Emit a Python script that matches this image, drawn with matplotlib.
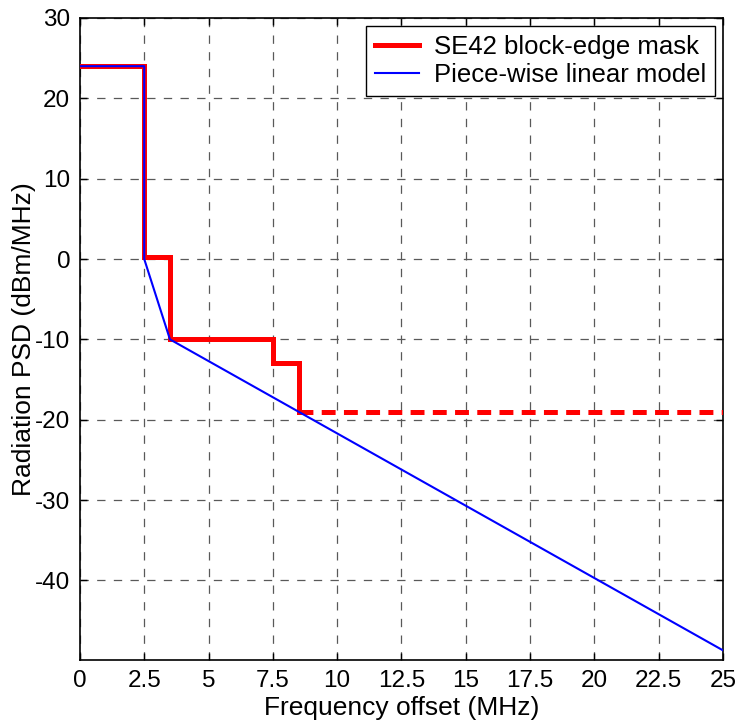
import matplotlib
matplotlib.use("Agg")
import matplotlib.pyplot as plt

plt.rcParams['font.family'] = ['Liberation Sans', 'DejaVu Sans']
plt.rcParams['lines.scale_dashes'] = False
plt.rcParams['axes.unicode_minus'] = False

# SE42 block-edge mask (step function) and its piece-wise linear model
mask_freq = [0, 2.5, 2.5, 3.5, 3.5, 7.5, 7.5, 8.5, 8.5]
mask_psd = [24, 24, 0.3, 0.3, -10, -10, -13, -13, -19]
mask_ext_freq = [8.5, 25]
mask_ext_psd = [-19, -19]

model_freq = [0, 2.5, 2.5, 3.5, 25]
model_psd = [24, 24, 0, -10, -48.7]

xticks = [0, 2.5, 5, 7.5, 10, 12.5, 15, 17.5, 20, 22.5, 25]
xtick_labels = ['0', '2.5', '5', '7.5', '10', '12.5', '15', '17.5', '20', '22.5', '25']
yticks = [-40, -30, -20, -10, 0, 10, 20, 30]

fig = plt.figure(figsize=(7.4, 7.24), dpi=100)
ax = fig.add_axes([0.108, 0.0884, 0.869, 0.8868])

ax.plot(mask_freq, mask_psd, color='#ff0000', lw=3.6, solid_joinstyle='miter',
        label='SE42 block-edge mask', zorder=3)
ax.plot(mask_ext_freq, mask_ext_psd, color='#ff0000', lw=3.6,
        dashes=(10, 6), zorder=3)
ax.plot(model_freq, model_psd, color='#0000ff', lw=1.5,
        label='Piece-wise linear model', zorder=4)

ax.set_xlim(0, 25)
ax.set_ylim(-49.9, 30)
ax.set_xticks(xticks)
ax.set_xticklabels(xtick_labels)
ax.set_yticks(yticks)

ax.grid(True, color='0.35', lw=0.9, dashes=(6, 6))
ax.tick_params(direction='in', length=5, width=1, top=True, right=True,
               labelsize=17.5, pad=7, colors='black')
for s in ax.spines.values():
    s.set_linewidth(1.2)

ax.set_xlabel('Frequency offset (MHz)', fontsize=19, labelpad=3)
ax.set_ylabel('Radiation PSD (dBm/MHz)', fontsize=19, labelpad=-1)

leg = ax.legend(loc='upper right', fontsize=18.5, fancybox=False, framealpha=1,
                edgecolor='black', borderaxespad=0.3, handlelength=1.7,
                handletextpad=0.6, borderpad=0.35, labelspacing=0.15)
leg.get_frame().set_linewidth(1.0)

fig.savefig('out.png', dpi=100)
